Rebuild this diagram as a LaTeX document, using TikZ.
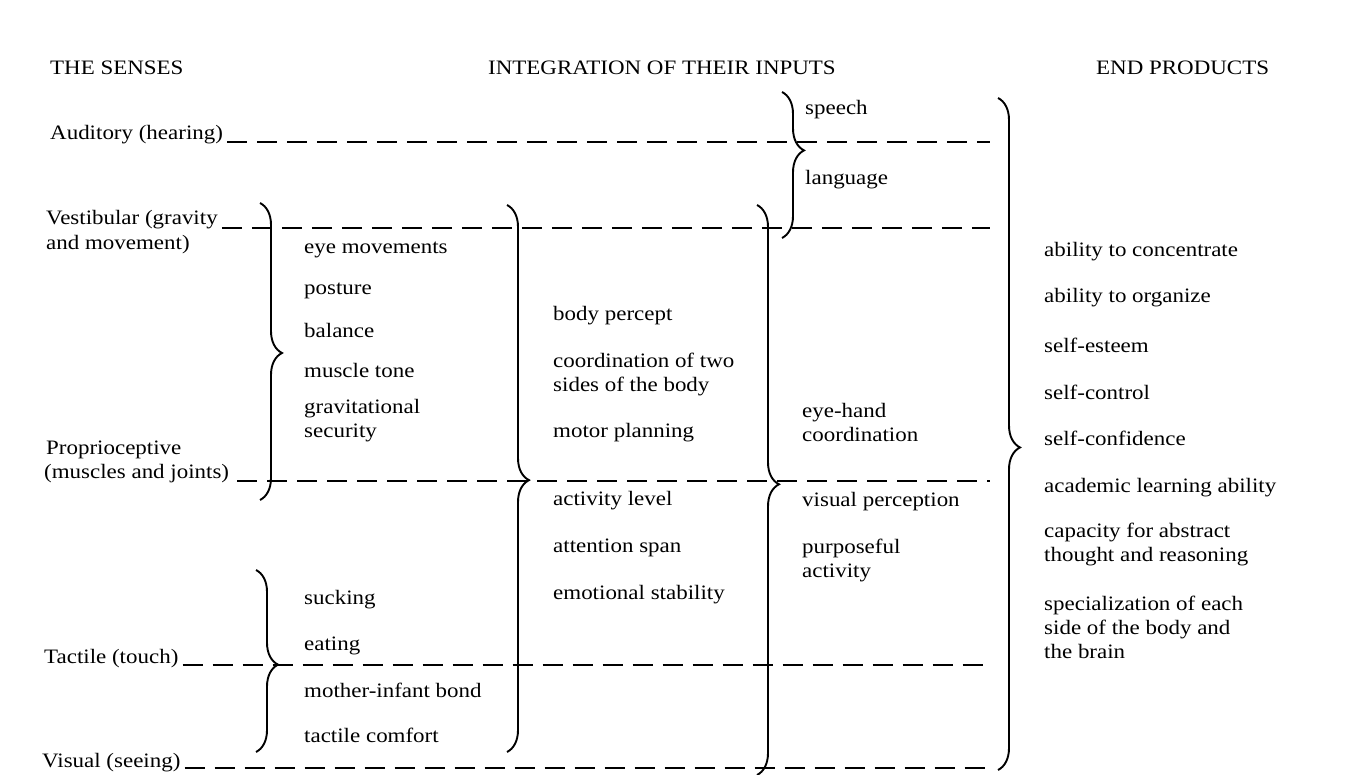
\documentclass[tikz,border=0pt]{standalone}
\usepackage{fontspec}
\setmainfont{Liberation Serif}[FakeStretch=1.12]
\usetikzlibrary{decorations.pathreplacing}
\begin{document}
\begin{tikzpicture}[x=1pt,y=-1pt,
  lbl/.style={anchor=west,inner sep=0pt,font=\fontsize{20.5}{24}\selectfont,align=left},
  dline/.style={line width=1.8pt,dash pattern=on 20pt off 10pt},
  br/.style={line width=1.9pt,decorate,decoration={brace,amplitude=22pt,aspect=#1}}]
\useasboundingbox (0,0) rectangle (1363,775);
% headings
\node[lbl] (h1) at (50,68) {THE SENSES};
\node[lbl] (h2) at (488,68) {INTEGRATION OF THEIR INPUTS};
\node[lbl] (h3) at (1096,68) {END PRODUCTS};
% senses
\node[lbl] (aud) at (50,135) {Auditory (hearing)};
\node[lbl] (ves) at (46,220) {Vestibular (gravity};
\node[lbl] (ves2) at (46,245) {and movement)};
\node[lbl] (pro) at (46,450) {Proprioceptive};
\node[lbl] (pro2) at (44,474) {(muscles and joints)};
\node[lbl] (tac) at (44,659) {Tactile (touch)};
\node[lbl] (vis) at (42,763) {Visual (seeing)};
\coordinate (e1) at (990,142);
\coordinate (e2) at (990,228);
\coordinate (e3) at (990,481);
\coordinate (e4) at (990,665);
\coordinate (e5) at (990,768);
\draw[dline] (aud.east |- e1) ++(4,0) coordinate (s1) -- (e1);
\draw[dline] (ves.east |- e2) ++(4,0) coordinate (s2) -- (e2);
\draw[dline] (pro2.east |- e3) ++(8,0) coordinate (s3) -- (e3);
\draw[dline] (tac.east |- e4) ++(4,0) coordinate (s4) -- (e4);
\draw[dline] (vis.east |- e5) ++(4,0) coordinate (s5) -- (e5);
% column 2
\node[lbl] (a1) at (304,250) {eye movements};
\node[lbl] (a2) at (304,291) {posture};
\node[lbl] (a3) at (304,330) {balance};
\node[lbl] (a4) at (304,370) {muscle tone};
\node[lbl] (a5) at (304,421) {gravitational\\security};
\node[lbl] (a6) at (304,600) {sucking};
\node[lbl] (a7) at (304,646) {eating};
\node[lbl] (a8) at (304,690) {mother-infant bond};
\node[lbl] (a9) at (304,735) {tactile comfort};
% column 3
\node[lbl] (b1) at (553,316) {body percept};
\node[lbl] (b2) at (553,374) {coordination of two\\sides of the body};
\node[lbl] (b3) at (553,433) {motor planning};
\node[lbl] (b4) at (553,501) {activity level};
\node[lbl] (b5) at (553,548) {attention span};
\node[lbl] (b6) at (553,595) {emotional stability};
% column 4
\node[lbl] (c1) at (805,110) {speech};
\node[lbl] (c2) at (805,180) {language};
\node[lbl] (c3) at (802,422) {eye-hand\\coordination};
\node[lbl] (c4) at (802,502) {visual perception};
\node[lbl] (c5) at (802,560) {purposeful\\activity};
% column 5
\node[lbl] (d1) at (1044,252) {ability to concentrate};
\node[lbl] (d2) at (1044,298) {ability to organize};
\node[lbl] (d3) at (1044,345) {self-esteem};
\node[lbl] (d4) at (1044,392) {self-control};
\node[lbl] (d5) at (1044,438) {self-confidence};
\node[lbl] (d6) at (1044,488) {academic learning ability};
\node[lbl] (d7) at (1044,544) {capacity for abstract\\thought and reasoning};
\node[lbl] (d8) at (1044,627) {specialization of each\\side of the body and\\the brain};
% braces
\draw[br=.505] (260,203) -- (260,500);
\draw[br=.52] (256,570) -- (256,752);
\draw[br=.503] (507,205) -- (507,752);
\draw[br=.49] (757,205) -- (757,775);
\draw[br=.40] (782,92) -- (782,238);
\draw[br=.52] (998,98) -- (998,770);
\end{tikzpicture}
\end{document}
